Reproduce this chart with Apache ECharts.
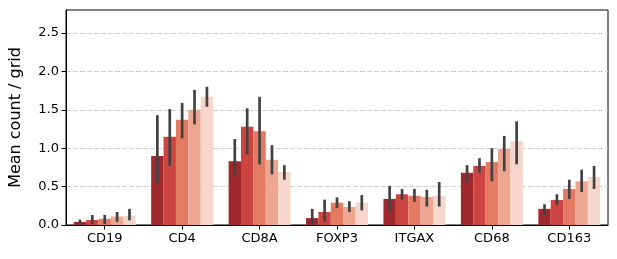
<!DOCTYPE html>
<html><head><meta charset="utf-8">
<script src="https://cdn.jsdelivr.net/npm/echarts@6/dist/echarts.min.js"></script>
<style>html,body{margin:0;padding:0;background:#fff}#c{width:617px;height:259px}</style>
</head><body><div id="c"></div>
<script>
const categories = ['CD19','CD4','CD8A','FOXP3','ITGAX','CD68','CD163'];
const groupNames = ['G1','G2','G3','G4','G5'];
const colors = ['#9f282c','#cc4540','#e57a62','#eea691','#f6d6ca'];
const values1 = [0.04, 0.90, 0.83, 0.09, 0.34, 0.68, 0.21];
const values2 = [0.065, 1.15, 1.28, 0.17, 0.40, 0.77, 0.325];
const values3 = [0.08, 1.37, 1.22, 0.29, 0.38, 0.82, 0.47];
const values4 = [0.11, 1.50, 0.85, 0.235, 0.365, 0.99, 0.57];
const values5 = [0.12, 1.67, 0.69, 0.29, 0.38, 1.09, 0.625];
const low1 = [0.00, 0.54, 0.63, 0.00, 0.18, 0.56, 0.13];
const high1 = [0.07, 1.43, 1.12, 0.21, 0.51, 0.78, 0.27];
const low2 = [0.01, 0.77, 0.92, 0.04, 0.33, 0.68, 0.26];
const high2 = [0.13, 1.51, 1.52, 0.33, 0.47, 0.87, 0.40];
const low3 = [0.01, 1.13, 0.79, 0.22, 0.30, 0.57, 0.34];
const high3 = [0.13, 1.59, 1.67, 0.36, 0.47, 1.00, 0.59];
const low4 = [0.04, 1.31, 0.66, 0.17, 0.24, 0.70, 0.43];
const high4 = [0.17, 1.76, 1.04, 0.31, 0.46, 1.16, 0.72];
const low5 = [0.06, 1.54, 0.59, 0.19, 0.24, 0.79, 0.47];
const high5 = [0.21, 1.80, 0.78, 0.39, 0.56, 1.35, 0.77];
const yTicks = [0, 0.5, 1.0, 1.5, 2.0, 2.5];

const values = [values1, values2, values3, values4, values5];
const lows = [low1, low2, low3, low4, low5];
const highs = [high1, high2, high3, high4, high5];

const font = 'DejaVu Sans';
const series = [];
values.forEach((v, i) => {
  series.push({
    type: 'bar', name: groupNames[i], data: v,
    itemStyle: { color: colors[i] },
    barGap: '0%', barCategoryGap: '20%', z: 2
  });
});
values.forEach((v, i) => {
  const data = categories.map((c, j) => [j, lows[i][j], highs[i][j]]);
  series.push({
    type: 'custom', z: 5,
    data: data,
    encode: { x: 0, y: [1, 2] },
    renderItem: function (params, api) {
      const idx = api.value(0);
      const band = api.size([1, 0])[0];
      const off = (i - 2) * 0.16 * band;
      const p1 = api.coord([idx, api.value(1)]);
      const p2 = api.coord([idx, api.value(2)]);
      return {
        type: 'line',
        shape: { x1: p1[0] + off, y1: p1[1], x2: p2[0] + off, y2: p2[1] },
        style: { stroke: '#424242', lineWidth: 2.7 }
      };
    }
  });
});

const chart = echarts.init(document.getElementById('c'));
chart.setOption({
  animation: false,
  grid: { left: 65, right: 9, top: 10, bottom: 34, show: true, borderColor: '#000', borderWidth: 1, backgroundColor: 'transparent' },
  xAxis: {
    type: 'category', data: categories,
    axisLine: { lineStyle: { color: '#000', width: 1 } },
    axisTick: { show: true, alignWithLabel: true, length: 4.5, lineStyle: { color: '#000' } },
    axisLabel: { color: '#000', fontFamily: font, fontSize: 13, margin: 7 },
    splitLine: { show: false }
  },
  yAxis: {
    type: 'value', min: 0, max: 2.8, interval: 0.5,
    name: 'Mean count / grid', nameLocation: 'middle', nameGap: 42,
    nameTextStyle: { color: '#000', fontFamily: font, fontSize: 16 },
    axisLine: { show: true, lineStyle: { color: '#000', width: 1 } },
    axisTick: { show: true, length: 4.5, lineStyle: { color: '#000' }, customValues: yTicks },
    axisLabel: { color: '#000', fontFamily: font, fontSize: 13, margin: 7, customValues: yTicks,
      formatter: v => Number(v).toFixed(1) },
    splitLine: { show: true, lineStyle: { color: '#d0d0d0', type: [5, 2], width: 1 } }
  },
  series: series
});
</script></body></html>
